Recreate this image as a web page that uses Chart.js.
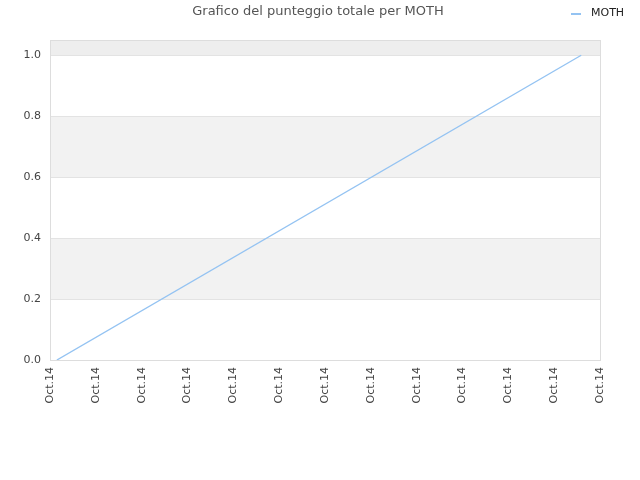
<!DOCTYPE html>
<html>
<head>
<meta charset="utf-8">
<script src="https://cdn.jsdelivr.net/npm/chart.js@4/dist/chart.umd.min.js"></script>
<style>
html,body{margin:0;padding:0;background:#fff;}
#wrap{width:640px;height:480px;position:relative;}
</style>
</head>
<body>
<div id="wrap"><canvas id="c" width="640" height="480"></canvas></div>
<script>
const chartTitle = "Grafico del punteggio totale per MOTH";
const seriesLabel = "MOTH";
const tickLabels = ["Oct.14","Oct.14","Oct.14","Oct.14","Oct.14","Oct.14","Oct.14","Oct.14","Oct.14","Oct.14","Oct.14","Oct.14","Oct.14"];
const xValues = [0.15, 11.59];
const scoreValues = [0.0, 1.0];
const lineColor = "#94c3f2";

const bandPlugin = {
  id: 'bands',
  beforeDraw(chart) {
    const {ctx, chartArea: a, scales: {y}} = chart;
    ctx.save();
    const bands = [[0.2,0.4,'#f2f2f2'],[0.6,0.8,'#f2f2f2'],[1.0,y.max,'#eeeeee']];
    bands.forEach(([lo,hi,col]) => {
      const y1 = y.getPixelForValue(hi), y2 = y.getPixelForValue(lo);
      ctx.fillStyle = col;
      ctx.fillRect(a.left, y1, a.right - a.left, y2 - y1);
    });
    ctx.restore();
  },
  afterDraw(chart) {
    const {ctx, chartArea: a} = chart;
    ctx.save();
    ctx.strokeStyle = '#dddddd';
    ctx.lineWidth = 1;
    ctx.strokeRect(a.left + 0.5, a.top + 0.5, a.right - a.left, a.bottom - a.top);
    // title
    ctx.fillStyle = '#555';
    ctx.font = '13px "DejaVu Sans"';
    ctx.textAlign = 'center';
    ctx.textBaseline = 'middle';
    ctx.fillText(chartTitle, 318, 12);
    // legend
    const ds = chart.data.datasets[0];
    ctx.strokeStyle = ds.borderColor;
    ctx.lineWidth = 2;
    ctx.beginPath();
    ctx.moveTo(571, 14);
    ctx.lineTo(581, 14);
    ctx.stroke();
    ctx.fillStyle = '#222';
    ctx.font = '11px "DejaVu Sans"';
    ctx.textAlign = 'left';
    ctx.fillText(ds.label, 591, 13);
    ctx.restore();
  }
};

new Chart(document.getElementById('c'), {
  type: 'line',
  data: {
    datasets: [{
      label: seriesLabel,
      data: xValues.map((x, i) => ({x: x, y: scoreValues[i]})),
      borderColor: lineColor,
      backgroundColor: lineColor,
      borderWidth: 1.4,
      pointRadius: 0,
      tension: 0,
      fill: false
    }]
  },
  options: {
    responsive: false,
    animation: false,
    devicePixelRatio: 1,
    layout: {padding: {left: 0, top: 40, right: 40, bottom: 0}},
    plugins: {legend: {display: false}, title: {display: false}, tooltip: {enabled: false}},
    scales: {
      x: {
        type: 'linear',
        min: 0,
        max: tickLabels.length - 1,
        afterFit(s) { s.height = 120; },
        afterBuildTicks(s) { s.ticks = tickLabels.map((_, i) => ({value: i})); },
        grid: {display: false, drawTicks: false},
        border: {display: false},
        ticks: {
          stepSize: 1,
          autoSkip: false,
          maxRotation: 90,
          minRotation: 90,
          padding: 7,
          color: '#444',
          font: {family: 'DejaVu Sans', size: 11},
          callback: (v) => tickLabels[Math.round(v)]
        }
      },
      y: {
        min: 0,
        max: 1.05,
        afterFit(s) { s.width = 50; },
        afterBuildTicks(s) { s.ticks = [0,0.2,0.4,0.6,0.8,1.0].map(v => ({value: v})); },
        grid: {color: '#e3e3e3', drawTicks: false},
        border: {display: false},
        ticks: {
          padding: 9,
          color: '#444',
          font: {family: 'DejaVu Sans', size: 11},
          callback: (v) => Number(v).toFixed(1)
        }
      }
    }
  },
  plugins: [bandPlugin]
});
</script>
</body>
</html>
